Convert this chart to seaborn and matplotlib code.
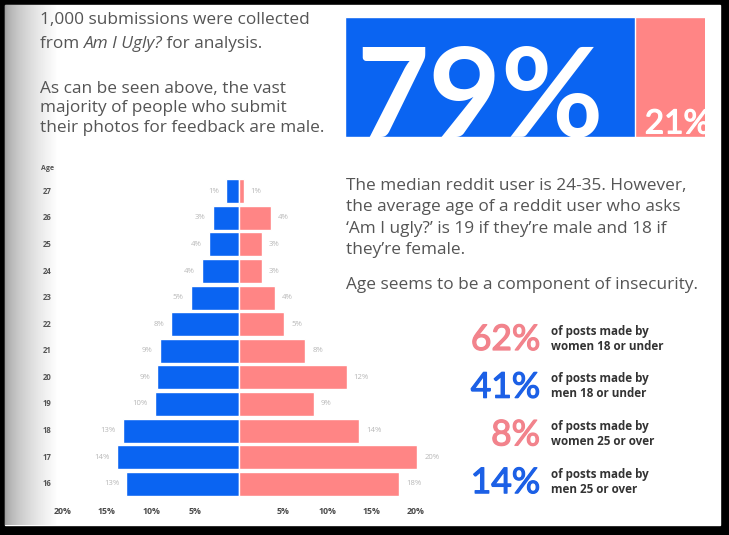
import numpy as np
import pandas as pd
import seaborn as sns
import matplotlib.pyplot as plt
import matplotlib.patheffects as pe
from matplotlib.patches import Rectangle

ages = ["27", "26", "25", "24", "23", "22", "21", "20", "19", "18", "17", "16"]
male_pct = [1.5, 3.0, 3.4, 4.2, 5.5, 7.7, 9.0, 9.3, 9.6, 13.2, 13.9, 12.8]
female_pct = [0.5, 3.6, 2.6, 2.6, 4.1, 5.1, 7.5, 12.2, 8.5, 13.6, 20.2, 18.2]
male_labels = ["1%", "3%", "4%", "4%", "5%", "8%", "9%", "9%", "10%", "13%", "14%", "13%"]
female_labels = ["1%", "4%", "3%", "3%", "4%", "5%", "8%", "12%", "9%", "14%", "20%", "18%"]
tick_values = [-20, -15, -10, -5, 5, 10, 15, 20]
tick_labels = ["20%", "15%", "10%", "5%", "5%", "10%", "15%", "20%"]

gender_names = ["male", "female"]
gender_split = [79, 21]

stat_values = ["62%", "41%", "8%", "14%"]
stat_groups = ["women 18 or under", "men 18 or under", "women 25 or over", "men 25 or over"]
stat_sex = ["female", "male", "female", "male"]

BLUE = "#0a64f2"
PINK = "#ff8585"
STAT_COLORS = {"female": "#f2838c", "male": "#1c60e6"}
TEXT = "#555555"
BODY = ["Open Sans", "DejaVu Sans"]
NUMS = ["Lato", "DejaVu Sans"]

W, H = 729, 535

sns.set_style("white")
plt.rcParams["font.family"] = BODY

fig = plt.figure(figsize=(W / 100, H / 100), dpi=100, facecolor="black")


def px_axes(x0, y0, x1, y1):
    """axes placed by pixel box (top-left origin)"""
    return fig.add_axes([x0 / W, 1 - y1 / H, (x1 - x0) / W, (y1 - y0) / H])


# page background in pixel coordinates
bg = fig.add_axes([0, 0, 1, 1])
bg.add_patch(Rectangle((5, 5), 715, 520, color="white", zorder=0))
# greyish scanned strip on the left edge
shade = np.linspace(0.0, 1.0, 60) ** 0.6
strip = np.ones((1, 60, 4))
strip[..., :3] = 0.55
strip[..., 3] = 0.85 * (1 - shade)
bg.imshow(strip, extent=(5, 58, 525, 5), aspect="auto", zorder=1)
bg.set_xlim(0, W)
bg.set_ylim(H, 0)
bg.axis("off")

BODY_SIZE = 12.4

# left paragraph
left_lines = [(20, "1,000 submissions were collected"),
              (89, "As can be seen above, the vast"),
              (108, "majority of people who submit"),
              (128, "their photos for feedback are male.")]
for y, s in left_lines:
    bg.text(40, y, s, fontsize=BODY_SIZE, color=TEXT, va="center")

renderer = fig.canvas.get_renderer()
x = 40
for s, style in [("from ", "normal"), ("Am I Ugly?", "italic"), (" for analysis.", "normal")]:
    t = bg.text(x, 44, s, fontsize=BODY_SIZE, color=TEXT, va="center", style=style)
    x = t.get_window_extent(renderer).x1

# right paragraph
right_lines = [(186, "The median reddit user is 24-35. However,"),
               (207, "the average age of a reddit user who asks"),
               (229, "\u2018Am I ugly?\u2019 is 19 if they\u2019re male and 18 if"),
               (250, "they\u2019re female."),
               (285, "Age seems to be a component of insecurity.")]
for y, s in right_lines:
    bg.text(346, y, s, fontsize=BODY_SIZE, color=TEXT, va="center")

# key stats
for i, (val, grp, sex) in enumerate(zip(stat_values, stat_groups, stat_sex)):
    base = 350 + i * 47.7
    c = STAT_COLORS[sex]
    bg.text(540, base, val, fontsize=25.5, color=c, ha="right", va="baseline",
            family=NUMS, path_effects=[pe.withStroke(linewidth=0.9, foreground=c)])
    bg.text(551, base - 19, "of posts made by", fontsize=8.4,
            fontweight="bold", color="#333333", va="center")
    bg.text(551, base - 4, grp, fontsize=8.4,
            fontweight="bold", color="#333333", va="center")

# gender split bar (79 / 21)
gx = px_axes(345, 17, 705, 137)
split = pd.DataFrame({"gender": gender_names, "pct": gender_split})
sns.barplot(x=[split["pct"].sum()], y=["all"], color=PINK, width=1,
            saturation=1, ax=gx, orient="h")
sns.barplot(x=[split["pct"][0]], y=["all"], color=BLUE, width=1,
            saturation=1, ax=gx, orient="h")
gx.set_xlim(0, 98.1)
gx.set_ylim(0.5, -0.5)
gx.axis("off")
gx.text(3.0, 0.5, f"{gender_split[0]}%", fontsize=90, color="white",
        va="baseline", clip_on=True, family=NUMS, fontweight="bold")
gx.text(81.7, 0.47, f"{gender_split[1]}%", fontsize=24, color="white",
        va="baseline", clip_on=True, family=NUMS,
        path_effects=[pe.withStroke(linewidth=0.9, foreground="white")])

# age pyramid
ax = px_axes(40, 178, 440, 497)
ax.set_facecolor("none")
df = pd.DataFrame({"age": ages, "male": male_pct, "female": female_pct})
df["male_left"] = -df["male"]
sns.barplot(data=df, x="male_left", y="age", order=ages, color=BLUE,
            saturation=1, width=0.9, ax=ax, orient="h")
sns.barplot(data=df, x="female", y="age", order=ages, color=PINK,
            saturation=1, width=0.9, ax=ax, orient="h")
ax.set_xlim(-22.6, 22.8)
ax.set_ylim(11.5, -0.5)
for sp in ax.spines.values():
    sp.set_visible(False)
ax.set_xlabel("")
ax.set_ylabel("")
ax.set_yticks([])
ax.set_xticks(tick_values, tick_labels)
ax.tick_params(axis="x", length=0, pad=7, labelsize=6.3, labelcolor="#4a4a4a")
for lab in ax.get_xticklabels():
    lab.set_fontweight("bold")

for i, row in df.iterrows():
    ax.text(-row["male"] - 0.8, i, male_labels[i], ha="right", va="center",
            fontsize=5.6, color="#b8b8b8")
    ax.text(row["female"] + 0.8, i, female_labels[i], ha="left", va="center",
            fontsize=5.6, color="#b8b8b8")
    ax.text(-21.8, i, row["age"], ha="center", va="center", fontsize=5.6,
            fontweight="bold", color="#555555")
ax.text(-21.8, -0.85, "Age", ha="center", va="center", fontsize=5,
        fontweight="bold", color="#555555", clip_on=False)

fig.savefig("out.png", dpi=100, facecolor="black")
